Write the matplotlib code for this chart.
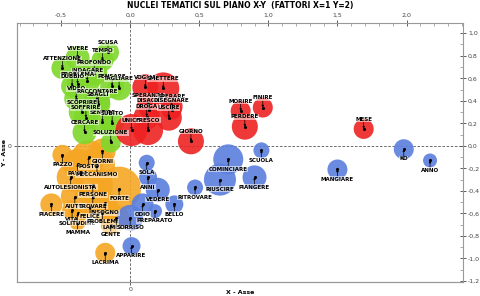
import matplotlib.pyplot as plt
import matplotlib.ticker as mticker

# dati: coordinate fattoriali (X=fattore 1, Y=fattore 2) e peso dei nuclei
verde_nomi = ['SCUSA', 'TEMPO', 'VIVERE', 'ATTENZIONE', 'PROFONDO', 'INDAGARE', 'PROBLEMA',
              'DUBBIO', 'PENSARE', 'TAGLIARE', 'VIDEO', 'RACCONTARE', 'SBAGLI', 'SCOPRIRE',
              'SENTIRE', 'SOFFRIRE', 'SUBITO', 'CERCARE', 'SOLUZIONE']
verde_x = [-0.16, -0.20, -0.38, -0.49, -0.26, -0.31, -0.38, -0.42, -0.13, -0.08, -0.39,
           -0.24, -0.23, -0.35, -0.20, -0.32, -0.13, -0.33, -0.14]
verde_y = [0.83, 0.76, 0.78, 0.69, 0.65, 0.58, 0.55, 0.53, 0.53, 0.51, 0.42,
           0.40, 0.37, 0.30, 0.21, 0.25, 0.20, 0.12, 0.03]
verde_peso = [11, 11, 12, 11, 13, 13, 11, 11, 12, 12, 12, 13, 12, 13, 13, 12, 12, 12, 10]

rosso_nomi = ['VOGLIA', 'SMETTERE', 'SPERANZA', 'DISAGIO', 'SPERARE', 'DISEGNARE', 'DROGA',
              'USCIRE', 'UNICO', 'FRESCO', 'GIORNO', 'MORIRE', 'FINIRE', 'PERDERE', 'MESE']
rosso_x = [0.11, 0.24, 0.13, 0.14, 0.30, 0.30, 0.12, 0.28, 0.01, 0.13, 0.44, 0.80, 0.96, 0.83, 1.69]
rosso_y = [0.52, 0.51, 0.36, 0.32, 0.35, 0.32, 0.26, 0.25, 0.14, 0.14, 0.04, 0.31, 0.34, 0.17, 0.15]
rosso_peso = [13, 16, 11, 10, 11, 10, 13, 13, 16, 15, 13, 10, 10, 13, 10]

blu_nomi = ['KO', 'ANNO', 'MANGIARE', 'SCUOLA', 'COMINCIARE', 'PIANGERE', 'RIUSCIRE',
            'RITROVARE', 'SOLA', 'ANNI', 'VEDERE', 'BELLO', 'ODIO', 'PREPARATO', 'SORRISO',
            'APPARIRE']
blu_x = [1.98, 2.17, 1.50, 0.95, 0.71, 0.90, 0.65, 0.47, 0.12, 0.13, 0.20, 0.32, 0.09, 0.18,
         0.00, 0.01]
blu_y = [-0.03, -0.13, -0.21, -0.04, -0.12, -0.28, -0.30, -0.37, -0.15, -0.28, -0.39, -0.52,
         -0.52, -0.58, -0.64, -0.89]
blu_peso = [10, 7, 10, 8, 15, 12, 16, 8, 8, 9, 12, 9, 11, 7, 13, 9]

arancio_nomi = ['PAZZO', 'POSTO', 'GIORNI', 'PAURA', 'MECCANISMO', 'AUTOLESIONISTA', 'PERSONE',
                'FORTE', 'PIACERE', 'AIUTO', 'TROVARE', 'BISOGNO', 'FELICE', 'VITA',
                'SOLITUDINE', 'PROBLEMI', 'MAMMA', 'LAMETTE', 'GENTE', 'LACRIMA']
arancio_x = [-0.49, -0.30, -0.20, -0.38, -0.24, -0.43, -0.27, -0.08, -0.57, -0.40, -0.27,
             -0.18, -0.29, -0.42, -0.38, -0.20, -0.38, -0.10, -0.14, -0.18]
arancio_y = [-0.08, -0.10, -0.05, -0.16, -0.17, -0.28, -0.35, -0.38, -0.52, -0.45, -0.45,
             -0.51, -0.54, -0.57, -0.60, -0.59, -0.68, -0.64, -0.70, -0.95]
arancio_peso = [10, 17, 13, 15, 18, 14, 20, 22, 11, 14, 13, 12, 10, 10, 10, 10, 8, 13, 10, 10]

gruppi = [
    (arancio_nomi, arancio_x, arancio_y, arancio_peso, '#F5A623', -7),
    (blu_nomi, blu_x, blu_y, blu_peso, '#5B7FDD', -7),
    (verde_nomi, verde_x, verde_y, verde_peso, '#7FD82B', 7),
    (rosso_nomi, rosso_x, rosso_y, rosso_peso, '#EE2222', 7),
]

plt.rcParams['font.family'] = ['DejaVu Sans']

fig = plt.figure(figsize=(4.8, 2.96), dpi=100)
ax = fig.add_axes([0.035, 0.047, 0.93, 0.875])

for nomi, xs, ys, pesi, col, off in gruppi:
    ax.scatter(xs, ys, s=[(p * 1.44) ** 2 for p in pesi], color=col, alpha=0.9,
               edgecolors='none', zorder=2)

for nomi, xs, ys, pesi, col, off in gruppi:
    for n, x, y in zip(nomi, xs, ys):
        ax.scatter([x], [y], s=1.5, color='black', zorder=5)
        ax.annotate(n, xy=(x, y), xytext=(0, off), textcoords='offset points',
                    ha='center', va='center', fontsize=4, fontweight='bold', zorder=6,
                    bbox=dict(facecolor='white', alpha=0.55, edgecolor='none', pad=0.3),
                    arrowprops=dict(arrowstyle='-|>', color='black', lw=0.5,
                                    mutation_scale=3, shrinkA=0, shrinkB=0))

ax.axhline(0, color='#555555', lw=0.6, ls=(0, (3, 2)), zorder=1)
ax.axvline(0, color='#555555', lw=0.6, ls=(0, (3, 2)), zorder=1)

ax.set_xlim(-0.82, 2.41)
ax.set_ylim(-1.21, 1.09)

fmt = mticker.FuncFormatter(lambda v, p: f'{v:.1f}'.replace('.', ','))

ax.xaxis.tick_top()
ax.xaxis.set_major_locator(mticker.MultipleLocator(0.5))
ax.xaxis.set_minor_locator(mticker.MultipleLocator(0.1))
ax.xaxis.set_major_formatter(fmt)
ax.yaxis.tick_right()
ax.yaxis.set_major_locator(mticker.MultipleLocator(0.2))
ax.yaxis.set_minor_locator(mticker.MultipleLocator(0.1))
ax.yaxis.set_major_formatter(fmt)
ax.tick_params(which='major', direction='inout', length=4, width=0.6, labelsize=4.5,
               colors='#444444', pad=1.5)
ax.tick_params(which='minor', direction='in', length=2, width=0.5, colors='#888888')

sx = ax.secondary_xaxis('bottom')
sx.set_xticks([0])
sx.set_xticklabels(['0'])
sx.tick_params(direction='inout', length=4, width=0.6, labelsize=4.5, colors='#444444', pad=1.5)
sy = ax.secondary_yaxis('left')
sy.set_yticks([0])
sy.set_yticklabels(['0'])
sy.tick_params(direction='inout', length=4, width=0.6, labelsize=4.5, colors='#444444', pad=1.5)
sy.set_ylabel('Y - Asse', fontsize=4.5, fontweight='bold', labelpad=1)

fig.text(0.5, 0.003, 'X - Asse', fontsize=4.5, fontweight='bold', ha='center', va='bottom')

for a in (ax, sx, sy):
    for sp in a.spines.values():
        sp.set_color('#999999')
        sp.set_linewidth(0.8)

fig.suptitle('NUCLEI TEMATICI SUL PIANO X-Y  (FATTORI X=1 Y=2)', fontsize=5.5,
             fontweight='bold', y=0.995)

fig.savefig('out.png', dpi=100)
